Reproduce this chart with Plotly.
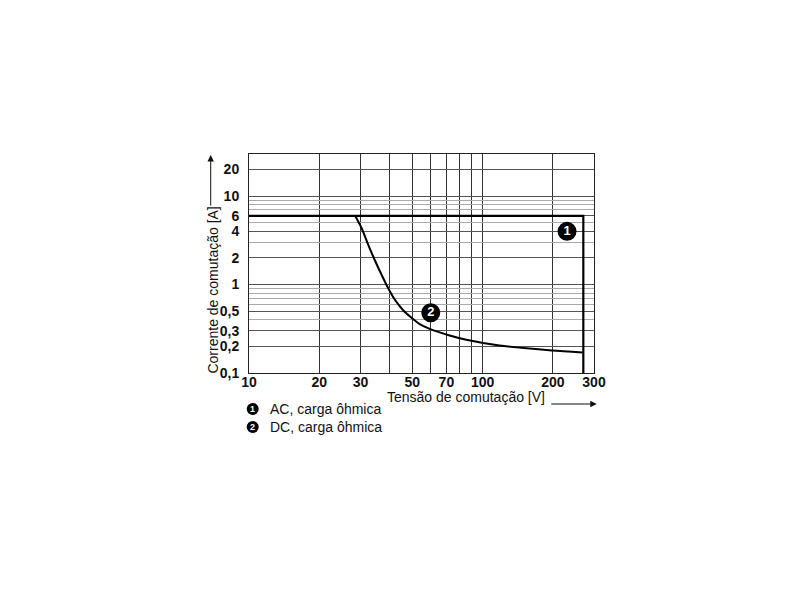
import plotly.graph_objects as go

# ---- data ----
ac_x = [10, 270, 270]
ac_y = [6, 6, 0.1]

dc_x = [28.5, 30.4, 32.4, 34.5, 36.9, 39.4, 42.0, 45.6, 49.2, 53.8, 59.4, 72.3, 85.2, 118, 198, 268]
dc_y = [5.97, 4.31, 2.81, 1.91, 1.30, 0.915, 0.682, 0.516, 0.430, 0.358, 0.316, 0.266, 0.238, 0.205, 0.180, 0.171]

label_x = [230, 60]
label_y = [4.0, 0.48]
label_text = ["1", "2"]

x_ticks = [10, 20, 30, 50, 70, 100, 200, 300]
x_ticktext = ["10", "20", "30", "50", "70", "100", "200", "300"]
x_grid = [20, 30, 40, 50, 60, 70, 80, 90, 100, 200]

y_ticks = [0.1, 0.2, 0.3, 0.5, 1, 2, 4, 6, 10, 20]
y_ticktext = ["0,1", "0,2", "0,3", "0,5", "1", "2", "4", "6", "10", "20"]
y_minor = [0.4, 0.6, 0.7, 0.8, 0.9, 3, 5, 7, 8, 9]

legend_items = ["AC, carga ôhmica", "DC, carga ôhmica"]

FONT = "Liberation Sans"

fig = go.Figure()
fig.add_trace(go.Scatter(x=ac_x, y=ac_y, mode="lines",
                         line=dict(color="black", width=2.2), hoverinfo="skip"))
fig.add_trace(go.Scatter(x=dc_x, y=dc_y, mode="lines",
                         line=dict(color="black", width=2, shape="spline", smoothing=0.7),
                         hoverinfo="skip"))
fig.add_trace(go.Scatter(x=label_x, y=label_y, mode="markers+text", text=label_text,
                         textposition="middle center",
                         textfont=dict(family=FONT, size=13, color="white", weight="bold"),
                         marker=dict(size=19, color="black"), hoverinfo="skip"))

fig.update_xaxes(type="log", range=[1, 2.4771],
                 tickvals=x_ticks, ticktext=x_ticktext,
                 tickfont=dict(family=FONT, size=14, color="#111", weight="bold"),
                 showgrid=False, zeroline=False,
                 showline=True, mirror=True, linecolor="#222", linewidth=1,
                 ticks="", ticklabelstandoff=-4,
                 minor=dict(tickvals=x_grid, showgrid=True, gridcolor="#333", gridwidth=1,
                            ticks=""))
fig.update_yaxes(type="log", range=[-1, 1.4771],
                 tickvals=y_ticks, ticktext=y_ticktext,
                 tickfont=dict(family=FONT, size=14, color="#111", weight="bold"),
                 showgrid=True, gridcolor="#555", gridwidth=1, zeroline=False,
                 showline=True, mirror=True, linecolor="#222", linewidth=1,
                 ticks="outside", ticklen=6, tickcolor="rgba(0,0,0,0)",
                 minor=dict(tickvals=y_minor, showgrid=True, gridcolor="#aaa", gridwidth=1,
                            ticks=""))

ann = []
# axis titles
ann.append(dict(x=0.628, y=-0.110, xref="paper", yref="paper", text="Tensão de comutação [V]",
                xanchor="center", yanchor="middle",
                showarrow=False, font=dict(family=FONT, size=14, color="#111")))
ann.append(dict(x=-0.105, y=0.38, xref="paper", yref="paper", text="Corrente de comutação [A]",
                xanchor="center", yanchor="middle",
                textangle=-90, showarrow=False, font=dict(family=FONT, size=14, color="#111")))
# axis arrows
ann.append(dict(x=1.008, y=-0.1416, xref="paper", yref="paper", text="", showarrow=True,
                ax=-47, ay=0, arrowhead=2, arrowsize=1.3, arrowwidth=1, arrowcolor="#111"))
ann.append(dict(x=-0.111, y=0.995, xref="paper", yref="paper", text="", showarrow=True,
                ax=0, ay=52, arrowhead=2, arrowsize=1.3, arrowwidth=1, arrowcolor="#111"))

shapes = []
leg_y = [-0.164, -0.247]
for i, (txt, yy) in enumerate(zip(legend_items, leg_y)):
    shapes.append(dict(type="circle", xref="paper", yref="paper",
                       xsizemode="pixel", ysizemode="pixel", xanchor=0.0107, yanchor=yy,
                       x0=-6, x1=6, y0=-6, y1=6, fillcolor="black", line=dict(width=0)))
    ann.append(dict(x=0.0107, y=yy, xref="paper", yref="paper", text=str(i + 1),
                    xanchor="center", yanchor="middle",
                    showarrow=False, font=dict(family=FONT, size=9, color="white", weight="bold")))
    ann.append(dict(x=0.054, y=yy, xref="paper", yref="paper", text=txt,
                    xanchor="left", yanchor="middle",
                    showarrow=False, font=dict(family=FONT, size=14, color="#111")))

fig.update_layout(width=810, height=590, autosize=False,
                  margin=dict(l=241, r=224, t=146, b=225),
                  paper_bgcolor="white", plot_bgcolor="white",
                  showlegend=False, annotations=ann, shapes=shapes)

fig.write_html("out.html")
